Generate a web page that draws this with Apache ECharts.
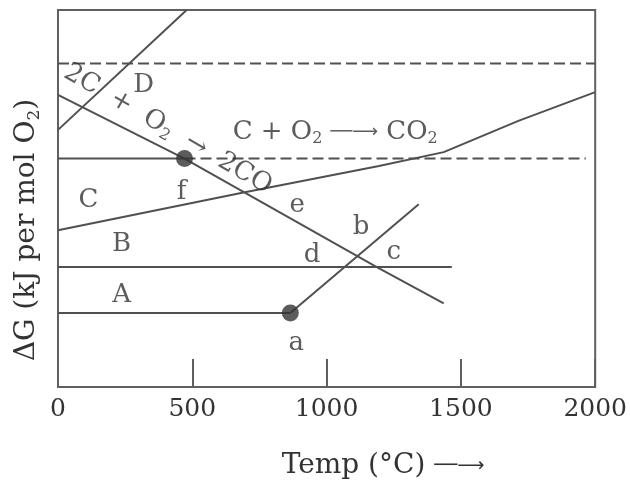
<!DOCTYPE html>
<html>
<head>
<meta charset="utf-8">
<script src="https://cdn.jsdelivr.net/npm/echarts@6/dist/echarts.min.js"></script>
<style>
  html, body { margin: 0; padding: 0; background: #ffffff; }
  #chart { width: 630px; height: 484px; }
</style>
</head>
<body>
<div id="chart"></div>
<script>
// ---- data (temperature in °C, ΔG in arbitrary relative units 0-100) ----
const xTickLabels = [0, 500, 1000, 1500, 2000];
const upperDashed = [[0, 85.8], [2000, 85.8]];
const lowerSolid = [[0, 60.6], [471, 60.6]];
const lowerDashed = [[471, 60.6], [1965, 60.6]];
const lineD = [[0, 68.2], [479, 100]];
const line2CO = [[0, 77.5], [471, 60.6], [1187, 31.8], [1436, 22.2]];
const lineCO2 = [[0, 41.6], [686, 51.5], [1195, 58.6], [1436, 62.3], [1714, 70.6], [2000, 78.2]];
const lineB = [[0, 31.8], [1466, 31.8]];
const lineA = [[0, 19.6], [865, 19.6]];
const lineRise = [[865, 19.6], [1343, 48.5]];
const dots = [[471, 60.6], [865, 19.6]];
const letterLabels = [
  ['D', 319, 80.1], ['C', 113, 49.6], ['f', 460, 51.7], ['e', 891, 48.3],
  ['B', 237, 37.9], ['d', 946, 35.0], ['b', 1128, 42.4], ['c', 1250, 35.8],
  ['A', 237, 24.4], ['a', 887, 11.7]
];
const reactionCO2 = ['{n|C + O}{s|2}{n| }{r|──⟶}{n| CO}{s|2}', 1032, 67.6];
const reactionCO = ['{n|2C  +  O}{s|2}{n|  →  2CO}', 409, 68.4];

const FONT = 'DejaVu Serif';
const LINE = '#505050';
const TXT = '#333333';
const rich = {
  n: { fontFamily: FONT, fontSize: 26, color: TXT, lineHeight: 30, verticalAlign: 'middle' },
  s: { fontFamily: FONT, fontSize: 16, color: TXT, lineHeight: 14, verticalAlign: 'bottom' },
  r: { fontFamily: 'DejaVu Sans', fontSize: 18, color: TXT, lineHeight: 30, verticalAlign: 'middle' },
  L: { fontFamily: FONT, fontSize: 26, color: TXT, lineHeight: 30, verticalAlign: 'middle' }
};

function lineSeries(data, dashed) {
  return {
    type: 'line', data: data, showSymbol: false, silent: true, animation: false,
    lineStyle: { color: LINE, width: 2, type: dashed ? [11, 5] : 'solid' },
    z: 2
  };
}

const labelData = letterLabels.map(l => ({ value: [l[1], l[2]], name: '{L|' + l[0] + '}' }));
labelData.push({ value: [reactionCO2[1], reactionCO2[2]], name: reactionCO2[0] });
labelData.push({ value: [reactionCO[1], reactionCO[2]], name: reactionCO[0], label: { rotate: -30 } });

const chart = echarts.init(document.getElementById('chart'), null, { renderer: 'canvas' });
chart.setOption({
  animation: false,
  backgroundColor: '#ffffff',
  grid: { left: 58, right: 33, top: 10, bottom: 97, show: true, borderColor: '#606060', borderWidth: 2, backgroundColor: 'transparent' },
  xAxis: {
    type: 'value', min: 0, max: 2000, interval: 500,
    axisLine: { show: false },
    axisTick: { show: true, inside: true, length: 28, lineStyle: { color: '#606060', width: 2 } },
    splitLine: { show: false },
    axisLabel: {
      margin: 10, fontFamily: FONT, fontSize: 25, color: TXT,
      formatter: v => xTickLabels.indexOf(v) >= 0 ? String(v) : ''
    }
  },
  yAxis: {
    type: 'value', min: 0, max: 100,
    axisLine: { show: false }, axisTick: { show: false }, axisLabel: { show: false }, splitLine: { show: false }
  },
  series: [
    lineSeries(upperDashed, true),
    lineSeries(lowerSolid, false),
    lineSeries(lowerDashed, true),
    lineSeries(lineD, false),
    lineSeries(line2CO, false),
    lineSeries(lineCO2, false),
    lineSeries(lineB, false),
    lineSeries(lineA, false),
    lineSeries(lineRise, false),
    {
      type: 'scatter', data: dots, symbol: 'circle', symbolSize: 17, silent: true,
      itemStyle: { color: '#333333' }, z: 4
    },
    {
      type: 'scatter', data: labelData, symbolSize: 0, silent: true, z: 5,
      label: {
        show: true, position: 'inside', align: 'center', verticalAlign: 'middle',
        formatter: p => p.name, rich: rich
      }
    }
  ],
  graphic: [
    {
      type: 'text', x: 27, y: 230, rotation: Math.PI / 2,
      style: {
        text: '{n|ΔG (kJ per mol O}{s|2}{n|)}',
        rich: {
          n: { fontFamily: FONT, fontSize: 28, fill: TXT, color: TXT, lineHeight: 32, verticalAlign: 'middle' },
          s: { fontFamily: FONT, fontSize: 17, fill: TXT, color: TXT, lineHeight: 15, verticalAlign: 'bottom' }
        },
        align: 'center', verticalAlign: 'middle'
      }
    },
    {
      type: 'text', x: 383, y: 466,
      style: {
        text: '{n|Temp (°C) }{r|──⟶}',
        rich: {
          n: { fontFamily: FONT, fontSize: 28, fill: TXT, color: TXT, lineHeight: 32, verticalAlign: 'middle' },
          r: { fontFamily: 'DejaVu Sans', fontSize: 19, fill: TXT, color: TXT, lineHeight: 32, verticalAlign: 'middle' }
        },
        align: 'center', verticalAlign: 'middle'
      }
    }
  ]
});
</script>
</body>
</html>
